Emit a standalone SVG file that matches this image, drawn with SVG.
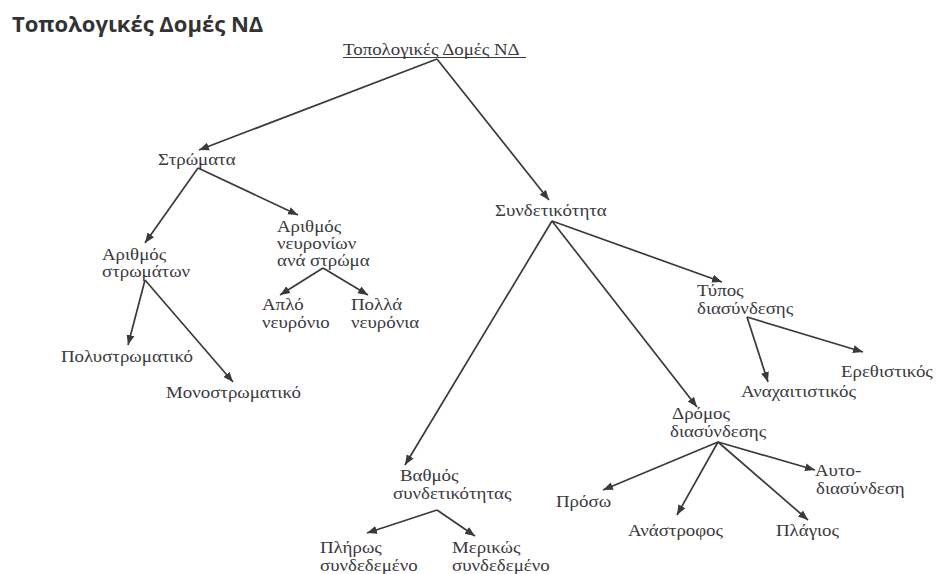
<svg xmlns="http://www.w3.org/2000/svg" width="938" height="574" viewBox="0 0 938 574">
<defs>
<style>
.t{font-family:"Liberation Serif","DejaVu Serif",serif;font-size:16px;fill:#3a3a40;}
.title{font-family:"Open Sans","Liberation Sans",sans-serif;font-size:22px;font-weight:bold;fill:#333;}
.c line{stroke:#3a3a3a;stroke-width:1.7;marker-end:url(#ah);}
</style>
<marker id="ah" viewBox="0 0 10 10" refX="10" refY="5" markerWidth="10" markerHeight="10" markerUnits="userSpaceOnUse" orient="auto">
<path d="M0,1 L10,5 L0,9 z" fill="#3a3a3a"/>
</marker>
</defs>
<rect width="938" height="574" fill="#fff"/>
<text class="title" x="12" y="32">Τοπολογικές Δομές ΝΔ</text>

<g id="root"><text class="t" transform="translate(343,55) scale(1.18,1)">Τοπολογικές Δομές ΝΔ</text><line x1="343" y1="57.5" x2="526" y2="57.5" stroke="#3a3a3a" stroke-width="1"/></g>
<g id="n-strwmata"><text class="t" transform="translate(158,165) scale(1.18,1)">Στρώματα</text></g>
<g id="n-arith-strwm"><text class="t" transform="translate(102,260) scale(1.18,1)">Αριθμός</text><text class="t" transform="translate(102,277) scale(1.18,1)">στρωμάτων</text></g>
<g id="n-arith-neur"><text class="t" transform="translate(277,232) scale(1.18,1)">Αριθμός</text><text class="t" transform="translate(277,249) scale(1.18,1)">νευρονίων</text><text class="t" transform="translate(277,266) scale(1.18,1)">ανά στρώμα</text></g>
<g id="n-aplo"><text class="t" transform="translate(262,310) scale(1.18,1)">Απλό</text><text class="t" transform="translate(262,328) scale(1.18,1)">νευρόνιο</text></g>
<g id="n-polla"><text class="t" transform="translate(351,310) scale(1.18,1)">Πολλά</text><text class="t" transform="translate(351,328) scale(1.18,1)">νευρόνια</text></g>
<g id="n-polystr"><text class="t" transform="translate(61,362) scale(1.18,1)">Πολυστρωματικό</text></g>
<g id="n-monostr"><text class="t" transform="translate(166,398) scale(1.18,1)">Μονοστρωματικό</text></g>
<g id="n-syndet"><text class="t" transform="translate(495,216) scale(1.18,1)">Συνδετικότητα</text></g>
<g id="n-typos"><text class="t" transform="translate(697,296) scale(1.18,1)">Τύπος</text><text class="t" transform="translate(697,314) scale(1.18,1)">διασύνδεσης</text></g>
<g id="n-erethist"><text class="t" transform="translate(841,377) scale(1.18,1)">Ερεθιστικός</text></g>
<g id="n-anax"><text class="t" transform="translate(741,397) scale(1.18,1)">Αναχαιτιστικός</text></g>
<g id="n-dromos"><text class="t" transform="translate(672,419) scale(1.18,1)">Δρόμος</text><text class="t" transform="translate(670,437) scale(1.18,1)">διασύνδεσης</text></g>
<g id="n-vathmos"><text class="t" transform="translate(400,481) scale(1.18,1)">Βαθμός</text><text class="t" transform="translate(393,499) scale(1.18,1)">συνδετικότητας</text></g>
<g id="n-proso"><text class="t" transform="translate(556,507) scale(1.18,1)">Πρόσω</text></g>
<g id="n-anastr"><text class="t" transform="translate(628,536) scale(1.18,1)">Ανάστροφος</text></g>
<g id="n-plagios"><text class="t" transform="translate(776,536) scale(1.18,1)">Πλάγιος</text></g>
<g id="n-auto"><text class="t" transform="translate(815,476) scale(1.18,1)">Αυτο-</text><text class="t" transform="translate(816,494) scale(1.18,1)">διασύνδεση</text></g>
<g id="n-plirws"><text class="t" transform="translate(320,553) scale(1.18,1)">Πλήρως</text><text class="t" transform="translate(320,571) scale(1.18,1)">συνδεδεμένο</text></g>
<g id="n-merikws"><text class="t" transform="translate(452,553) scale(1.18,1)">Μερικώς</text><text class="t" transform="translate(452,571) scale(1.18,1)">συνδεδεμένο</text></g>

<g id="connectors" class="c">
<line x1="437" y1="59" x2="199" y2="150"/>
<line x1="437" y1="59" x2="549" y2="200"/>
<line x1="198" y1="168" x2="145" y2="243"/>
<line x1="198" y1="168" x2="298" y2="215"/>
<line x1="145" y1="280" x2="128" y2="345"/>
<line x1="145" y1="280" x2="233" y2="382"/>
<line x1="323" y1="268" x2="280" y2="295"/>
<line x1="323" y1="268" x2="368" y2="295"/>
<line x1="552" y1="221" x2="405" y2="465"/>
<line x1="552" y1="221" x2="697" y2="407"/>
<line x1="552" y1="221" x2="722" y2="282"/>
<line x1="747" y1="317" x2="768" y2="382"/>
<line x1="747" y1="317" x2="863" y2="352"/>
<line x1="718" y1="442" x2="603" y2="490"/>
<line x1="718" y1="442" x2="677" y2="515"/>
<line x1="718" y1="442" x2="808" y2="520"/>
<line x1="718" y1="442" x2="815" y2="470"/>
<line x1="437" y1="510" x2="367" y2="533"/>
<line x1="437" y1="510" x2="475" y2="536"/>
</g>
</svg>
